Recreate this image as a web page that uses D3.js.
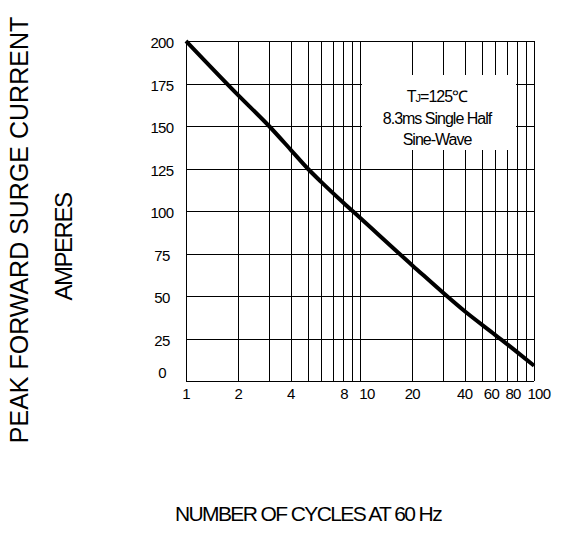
<!DOCTYPE html>
<html>
<head>
<meta charset="utf-8">
<script src="https://cdn.jsdelivr.net/npm/d3@7"></script>
<style>
  body { margin: 0; background: #fff; }
  text { font-family: "Liberation Sans", Arial, sans-serif; fill: #000; }
</style>
</head>
<body>
<svg id="chart" width="568" height="551"></svg>
<script>
// curve, at the grid lines
var cycles  = [1, 2, 3, 4, 5, 6, 8, 10, 20, 40, 60, 80, 100];
var current = [200, 168, 150, 136, 125, 117, 105, 96, 68, 41, 27, 17, 9];

var yTicks = [0, 25, 50, 75, 100, 125, 150, 175, 200];
var xGrid = [1, 2, 3, 4, 5, 6, 7, 8, 9, 10, 20, 30, 40, 50, 60, 70, 80, 90, 100];
var xLabels = [1, 2, 4, 8, 10, 20, 40, 60, 80, 100];
// small nudges so crowded labels don't touch
var xLabelNudge = { 8: 1, 10: 7, 60: -4, 80: -4, 100: 5 };

var noteLines = ["8.3ms Single Half", "Sine-Wave"];

var svg = d3.select("#chart");

var x = d3.scaleLog().domain([1, 100]).range([186, 534]);
var y = d3.scaleLinear().domain([0, 200]).range([381, 41]);

// grid
var grid = svg.append("g").attr("stroke", "#000").attr("stroke-width", 1);
grid.selectAll("line.v")
  .data(xGrid)
  .enter()
  .append("line")
  .attr("class", "v")
  .attr("x1", function (d) { return Math.round(x(d)) + 0.5; })
  .attr("x2", function (d) { return Math.round(x(d)) + 0.5; })
  .attr("y1", y(200))
  .attr("y2", y(0));
grid.selectAll("line.h")
  .data(yTicks)
  .enter()
  .append("line")
  .attr("class", "h")
  .attr("x1", x(1))
  .attr("x2", x(100))
  .attr("y1", function (d) { return Math.round(y(d)) + 0.5; })
  .attr("y2", function (d) { return Math.round(y(d)) + 0.5; });

// note box, blanks out the grid behind it
var note = svg.append("g");
note.append("rect")
  .attr("x", 362)
  .attr("y", 75)
  .attr("width", 154)
  .attr("height", 75)
  .attr("fill", "#fff");

var noteText = note.append("text")
  .attr("x", 437)
  .attr("y", 102)
  .attr("text-anchor", "middle")
  .attr("font-size", 16)
  .attr("letter-spacing", -1);
noteText.append("tspan").text("T");
noteText.append("tspan").attr("font-size", 11).text("J");
noteText.append("tspan").text("=125\u2103");

note.selectAll("text.line")
  .data(noteLines)
  .enter()
  .append("text")
  .attr("class", "line")
  .attr("x", 437)
  .attr("y", function (d, i) { return 124 + i * 21; })
  .attr("text-anchor", "middle")
  .attr("font-size", 16)
  .attr("letter-spacing", -1)
  .text(function (d) { return d; });

// curve
var points = cycles.map(function (c, i) { return [c, current[i]]; });
svg.append("path")
  .datum(points)
  .attr("fill", "none")
  .attr("stroke", "#000")
  .attr("stroke-width", 4)
  .attr("d", d3.line()
    .x(function (d) { return x(d[0]); })
    .y(function (d) { return y(d[1]); })
    .curve(d3.curveMonotoneX));

// y tick labels
svg.append("g")
  .selectAll("text")
  .data(yTicks)
  .enter()
  .append("text")
  .attr("x", 162)
  .attr("y", function (d) { return y(d) + (d === 0 ? -8 : 2); })
  .attr("dy", "0.35em")
  .attr("text-anchor", "middle")
  .attr("font-size", 15)
  .attr("letter-spacing", -0.6)
  .text(function (d) { return d; });

// x tick labels
svg.append("g")
  .selectAll("text")
  .data(xLabels)
  .enter()
  .append("text")
  .attr("x", function (d) { return x(d) + (xLabelNudge[d] || 0); })
  .attr("y", 394)
  .attr("dy", "0.35em")
  .attr("text-anchor", "middle")
  .attr("font-size", 15)
  .attr("letter-spacing", -0.6)
  .text(function (d) { return d; });

// axis titles
svg.append("text")
  .attr("x", 308)
  .attr("y", 521)
  .attr("text-anchor", "middle")
  .attr("font-size", 21)
  .attr("letter-spacing", -1.6)
  .text("NUMBER OF CYCLES AT 60 Hz");

svg.append("text")
  .attr("transform", "translate(28,230) rotate(-90)")
  .attr("text-anchor", "middle")
  .attr("font-size", 25)
  .text("PEAK FORWARD SURGE CURRENT");

svg.append("text")
  .attr("transform", "translate(72,247) rotate(-90)")
  .attr("text-anchor", "middle")
  .attr("font-size", 24)
  .attr("letter-spacing", -1.5)
  .text("AMPERES");
</script>
</body>
</html>
